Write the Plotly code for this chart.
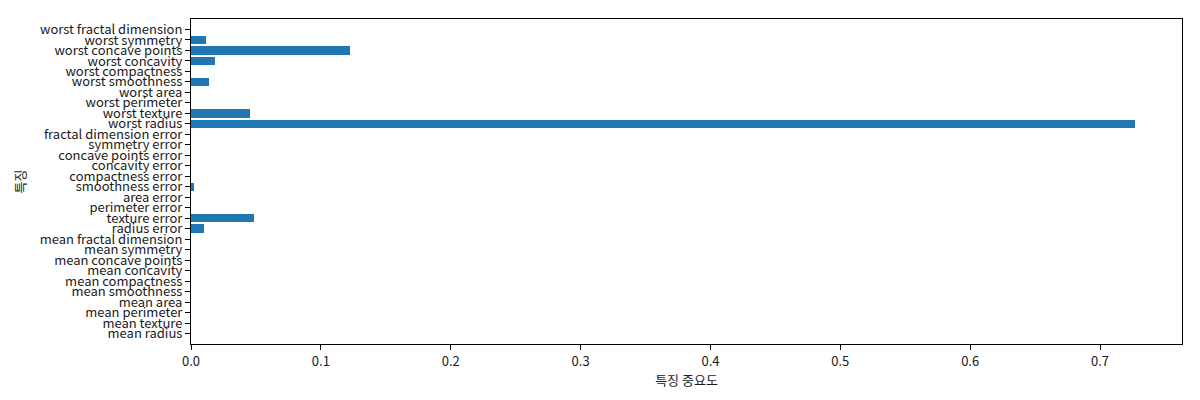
import plotly.graph_objects as go

features = [
    "mean radius", "mean texture", "mean perimeter", "mean area", "mean smoothness",
    "mean compactness", "mean concavity", "mean concave points", "mean symmetry",
    "mean fractal dimension", "radius error", "texture error", "perimeter error",
    "area error", "smoothness error", "compactness error", "concavity error",
    "concave points error", "symmetry error", "fractal dimension error",
    "worst radius", "worst texture", "worst perimeter", "worst area",
    "worst smoothness", "worst compactness", "worst concavity",
    "worst concave points", "worst symmetry", "worst fractal dimension",
]
importances = [
    0, 0, 0, 0, 0, 0, 0, 0, 0, 0,
    0.0102, 0.0484, 0, 0, 0.0024, 0, 0, 0, 0, 0,
    0.7268, 0.0458, 0, 0, 0.0142, 0, 0.0182, 0.1221, 0.0119, 0,
]
x_ticks = [0.0, 0.1, 0.2, 0.3, 0.4, 0.5, 0.6, 0.7]

positions = list(range(len(features)))

font_family = "Noto Sans CJK KR, Malgun Gothic, sans-serif"
text_color = "#1a1a1a"

fig = go.Figure()
fig.add_trace(go.Bar(
    x=importances,
    y=positions,
    orientation="h",
    width=0.8,
    marker=dict(color="#1f77b4", line=dict(width=0)),
))

# page body has an 8px default margin; compensate so the plot sits where the reference does
fig.update_layout(
    width=1192, height=392,
    margin=dict(l=183, r=18, t=11, b=56, autoexpand=False),
    paper_bgcolor="white", plot_bgcolor="white",
    font=dict(family=font_family, size=13, color=text_color),
    showlegend=False,
    bargap=0,
)
fig.update_xaxes(
    automargin=False,
    range=[0, max(importances) * 1.05],
    tickvals=x_ticks,
    ticktext=[f"{v:.1f}" for v in x_ticks],
    tickfont=dict(size=13, color=text_color),
    showgrid=False, zeroline=False,
    showline=True, linecolor="black", linewidth=1, mirror=True,
    ticks="outside", ticklen=5, tickcolor="black",
    title=dict(text="특징 중요도", font=dict(size=13, color=text_color), standoff=1),
)
fig.update_yaxes(
    automargin=False,
    range=[-1, len(features)],
    tickvals=positions,
    ticktext=features,
    tickfont=dict(size=13, color=text_color),
    showgrid=False, zeroline=False,
    showline=True, linecolor="black", linewidth=1, mirror=True,
    ticks="outside", ticklen=5, tickcolor="black",
    title=dict(text="특징", font=dict(size=13, color=text_color), standoff=11),
)

fig.write_html("out.html")
